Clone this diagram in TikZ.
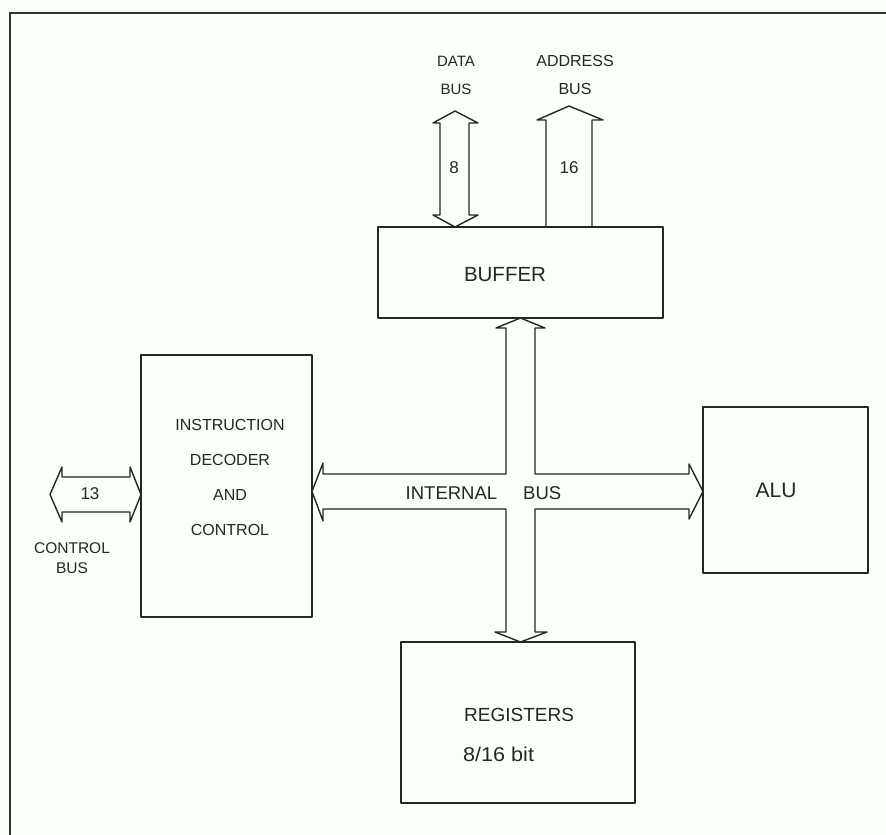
\documentclass[tikz,border=0pt]{standalone}
\usepackage{fontspec}
\setmainfont{Liberation Sans}
\begin{document}
\begin{tikzpicture}[x=1pt,y=-1pt,
  ink/.style={draw=black!85, line width=1.4pt, line join=round},
  box/.style={ink, rectangle, inner sep=0pt, outer sep=0pt},
  lbl/.style={inner sep=0pt, align=center, text=black!85},
  bus/.style={ink, fill=none}]
\clip (0,0) rectangle (886,835);
\fill[white!97!green!60!white] (0,0) rectangle (886,835);
% outer frame
\draw[draw=black!80, line width=2.2pt] (10,900) -- (10,13) -- (950,13);

% boxes
\node[box, minimum width=285pt, minimum height=91pt] (buffer) at (520.5,272.5) {};
\node[box, minimum width=171pt, minimum height=262pt] (idc) at (226.5,486) {};
\node[box, minimum width=165pt, minimum height=166pt] (alu) at (785.5,490) {};
\node[box, minimum width=234pt, minimum height=161pt] (regs) at (518,722.5) {};

% box texts
\node[lbl, font=\fontsize{20.5}{24}\selectfont] (tbuf) at (505,275) {BUFFER};
\node[lbl, font=\fontsize{16}{35}\selectfont] (tidc) at (230,477.5) {INSTRUCTION\\DECODER\\AND\\CONTROL};
\node[lbl, font=\fontsize{21}{24}\selectfont] (talu) at (776,490) {ALU};
\node[lbl, anchor=west, font=\fontsize{19}{24}\selectfont] (treg) at (464,715) {REGISTERS};
\node[lbl, anchor=west, font=\fontsize{20}{24}\selectfont, xscale=1.08] (tbit) at (463,754) {8/16 bit};

% data bus (double arrow)
\draw[bus] (440,123) -- (433,123) -- (455,111) -- (478,123) -- (469,123)
  -- (469,215) -- (478,215) -- (455,227) -- (433,215) -- (440,215) -- cycle;
% address bus (single arrow up)
\draw[bus] (546,227) -- (546,120) -- (537,120) -- (569,106) -- (603,120) -- (592,120) -- (592,227);

% internal bus cross
\draw[bus] (506,328) -- (496,328) -- (520.5,318) -- (545,328) -- (535,328)
  -- (535,474) -- (689,474) -- (689,464) -- (703,491.5) -- (689,519) -- (689,509)
  -- (535,509) -- (535,632) -- (547,632) -- (520.5,642) -- (495,632) -- (506,632)
  -- (506,509) -- (323,509) -- (323,521) -- (312,491.5) -- (323,463) -- (323,474)
  -- (506,474) -- cycle;

% control bus
\draw[bus] (62,477) -- (62,467) -- (50,494.5) -- (62,522) -- (62,512)
  -- (130,512) -- (130,522) -- (141,494.5) -- (130,467) -- (130,477) -- cycle;

% bus labels
\node[lbl, font=\fontsize{15}{28}\selectfont] (ldata) at (456,75) {DATA\\BUS};
\node[lbl, font=\fontsize{16}{28}\selectfont] (laddr) at (575,75) {ADDRESS\\BUS};
\node[lbl, font=\fontsize{17}{20}\selectfont] (l8) at (454,168) {8};
\node[lbl, font=\fontsize{17}{20}\selectfont] (l16) at (569,168) {16};
\node[lbl, font=\fontsize{17}{20}\selectfont] (l13) at (90,494) {13};
\node[lbl, font=\fontsize{15.5}{20}\selectfont] (lctrl) at (72,558) {CONTROL\\BUS};
\node[lbl, font=\fontsize{18.5}{20}\selectfont] (lint) at (483.5,493) {INTERNAL\hspace{26pt}BUS};
\end{tikzpicture}
\end{document}
